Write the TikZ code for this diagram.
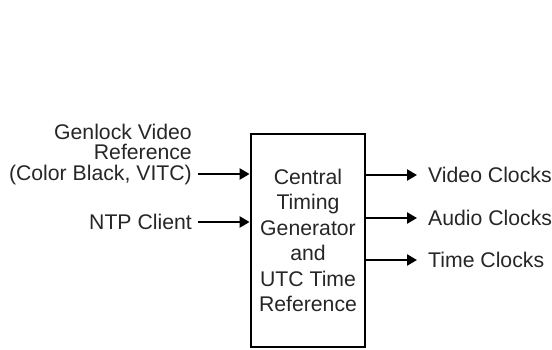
\documentclass[tikz,border=0pt]{standalone}
\usepackage{fontspec}
\setmainfont{Liberation Sans}
\usetikzlibrary{arrows.meta}

\tikzset{
  lbl/.style={inner sep=0pt,text=black!85,font=\fontsize{21.3}{20.5}\selectfont},
  feed/.style={line width=2.4bp,-{Triangle[length=10bp,width=11bp]}}
}

\begin{document}
\begin{tikzpicture}[x=1bp,y=-1bp]
\useasboundingbox (0,0) rectangle (552,349);
            % Box
\node[draw,line width=2.8bp,minimum width=114bp,minimum height=213bp,inner sep=0pt,
  align=center,text=black!85,font=\fontsize{21.3}{25.5}\selectfont] (ctg) at (308,240.5)
  {Central\\Timing\\Generator\\and\\UTC Time\\Reference};
%Inputs
\node[lbl,align=right,anchor=east] (gen) at (192,154.5) {Genlock Video\\Reference\\(Color Black, VITC)};
\coordinate (genend) at (198,174);
\node[lbl,anchor=east] (ntp) at (192,222) {NTP Client};
%Outputs
\node[lbl,anchor=west] (vid) at (428,175) {Video Clocks};
\node[lbl,anchor=west] (aud) at (428,218) {Audio Clocks};
\node[lbl,anchor=west] (tim) at (428,260) {Time Clocks};
%Connections
\draw[feed] (genend) -- (genend -| ctg.west);
\draw[feed] ([xshift=6bp]ntp.east) -- (ntp -| ctg.west);
\draw[feed] (ctg.east |- vid) -- ([xshift=-11bp]vid.west);
\draw[feed] (ctg.east |- aud) -- ([xshift=-11bp]aud.west);
\draw[feed] (ctg.east |- tim) -- ([xshift=-11bp]tim.west);
\end{tikzpicture}
\end{document}
